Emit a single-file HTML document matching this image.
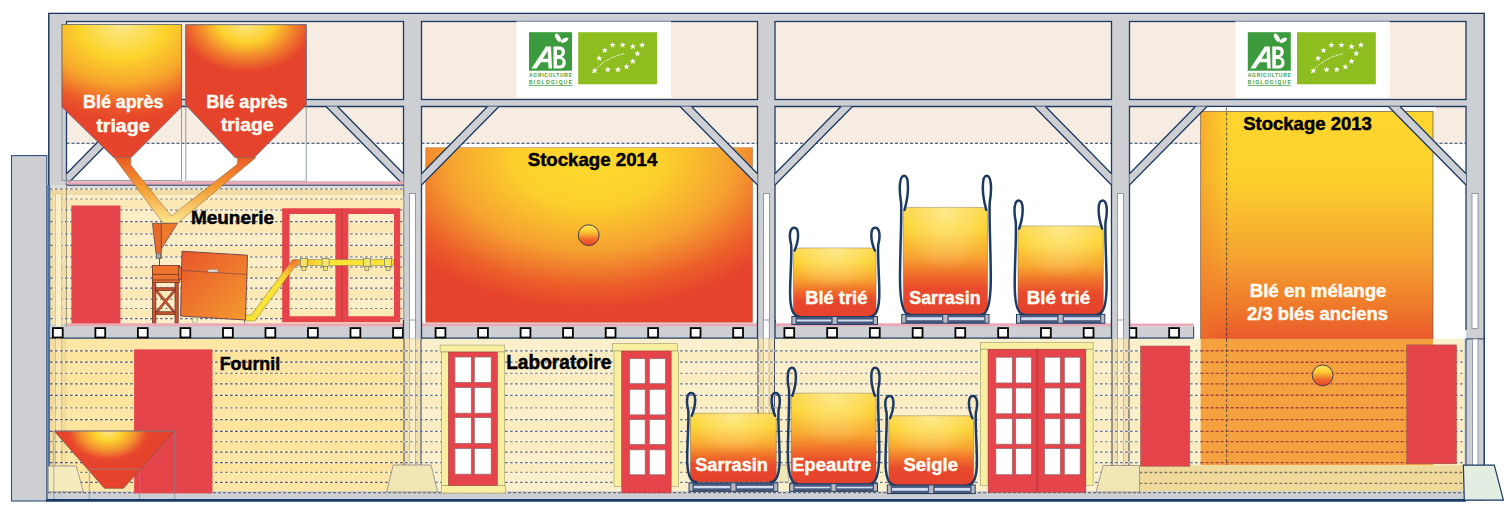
<!DOCTYPE html>
<html><head><meta charset="utf-8"><style>
html,body{margin:0;padding:0;background:#fff;overflow:hidden;width:1512px;height:513px;}
svg{display:block;}
text{font-family:"Liberation Sans",sans-serif;}
</style></head><body>
<svg width="1512" height="513" viewBox="0 0 1512 513">
<defs><radialGradient id="gSilo1" cx="122" cy="24" r="96" gradientUnits="userSpaceOnUse" gradientTransform="translate(122 24) scale(1.3 1) translate(-122 -24)">
<stop offset="0" stop-color="#fbe98e"/><stop offset="0.35" stop-color="#fcd42c"/><stop offset="0.62" stop-color="#f7a62c"/><stop offset="0.86" stop-color="#eb582a"/><stop offset="1" stop-color="#e6452c"/></radialGradient>
<radialGradient id="gSilo2" cx="246" cy="22" r="52" gradientUnits="userSpaceOnUse" gradientTransform="translate(246 22) scale(1.35 1) translate(-246 -22)">
<stop offset="0" stop-color="#fde890"/><stop offset="0.4" stop-color="#fcd02c"/><stop offset="0.72" stop-color="#f07a2c"/><stop offset="0.95" stop-color="#e6462c"/><stop offset="1" stop-color="#e5432c"/></radialGradient>
<radialGradient id="gStock14" cx="590" cy="158" r="160" gradientUnits="userSpaceOnUse" gradientTransform="translate(590 158) scale(1.55 1) translate(-590 -158)">
<stop offset="0" stop-color="#fdd92e"/><stop offset="0.3" stop-color="#fcd02c"/><stop offset="0.58" stop-color="#f5a030"/><stop offset="0.8" stop-color="#ec5e2a"/><stop offset="0.93" stop-color="#e6452c"/><stop offset="1" stop-color="#e5432c"/></radialGradient>
<linearGradient id="gStock13" x1="0" y1="111" x2="0" y2="340" gradientUnits="userSpaceOnUse">
<stop offset="0" stop-color="#fdd62e"/><stop offset="0.3" stop-color="#fcd02c"/><stop offset="0.62" stop-color="#f5a630"/><stop offset="0.85" stop-color="#ef7a2a"/><stop offset="1" stop-color="#e9582a"/></linearGradient>
<linearGradient id="gStock13L" x1="1200" y1="0" x2="1232" y2="0" gradientUnits="userSpaceOnUse">
<stop offset="0" stop-color="#ee7a28" stop-opacity="0.45"/><stop offset="1" stop-color="#ee7a28" stop-opacity="0"/></linearGradient>
<radialGradient id="gBag" cx="0.5" cy="0" r="1.1">
<stop offset="0" stop-color="#fde7a0"/><stop offset="0.18" stop-color="#fcd63a"/><stop offset="0.45" stop-color="#f8b434"/><stop offset="0.7" stop-color="#ee6a2e"/><stop offset="0.85" stop-color="#e84a2c"/><stop offset="1" stop-color="#e5402c"/></radialGradient>
<radialGradient id="gHopper" cx="108" cy="431" r="46" gradientUnits="userSpaceOnUse" gradientTransform="translate(108 431) scale(1 0.72) translate(-108 -431)">
<stop offset="0" stop-color="#fde68a"/><stop offset="0.3" stop-color="#fcd22c"/><stop offset="0.6" stop-color="#f39030"/><stop offset="0.85" stop-color="#e8482c"/><stop offset="1" stop-color="#e5432c"/></radialGradient>
<linearGradient id="gOrb" x1="0" y1="0" x2="0" y2="1">
<stop offset="0" stop-color="#fde860"/><stop offset="0.35" stop-color="#fcc830"/><stop offset="0.7" stop-color="#f06a2a"/><stop offset="1" stop-color="#e5402c"/></linearGradient>
<linearGradient id="gChute1" x1="120" y1="157" x2="170" y2="222" gradientUnits="userSpaceOnUse">
<stop offset="0" stop-color="#ee6a26"/><stop offset="1" stop-color="#fcd650"/></linearGradient>
<linearGradient id="gChute2" x1="245" y1="157" x2="170" y2="222" gradientUnits="userSpaceOnUse">
<stop offset="0" stop-color="#ee6a26"/><stop offset="1" stop-color="#fcd650"/></linearGradient>
<linearGradient id="gMach" x1="182" y1="250" x2="247" y2="320" gradientUnits="userSpaceOnUse">
<stop offset="0" stop-color="#e9552a"/><stop offset="1" stop-color="#f39a30"/></linearGradient>
<radialGradient id="gConv" cx="293" cy="261" r="28" gradientUnits="userSpaceOnUse">
<stop offset="0" stop-color="#ee7028"/><stop offset="0.45" stop-color="#f8c030"/><stop offset="1" stop-color="#fde434"/></radialGradient>
<linearGradient id="gChuteV" x1="0" y1="157" x2="0" y2="223" gradientUnits="userSpaceOnUse"><stop offset="0" stop-color="#ea5a26"/><stop offset="0.45" stop-color="#f39a30"/><stop offset="1" stop-color="#fde890"/></linearGradient>
<linearGradient id="gBagL" x1="0" y1="0" x2="0" y2="1"><stop offset="0" stop-color="#fcd84a"/><stop offset="0.2" stop-color="#fcd22e"/><stop offset="0.45" stop-color="#f8a832"/><stop offset="0.63" stop-color="#ef6e2a"/><stop offset="0.76" stop-color="#e84a2c"/><stop offset="1" stop-color="#e5412c"/></linearGradient>
<radialGradient id="gBagH" cx="0.5" cy="0.05" r="0.55"><stop offset="0" stop-color="#fff6c0" stop-opacity="0.55"/><stop offset="1" stop-color="#fff6c0" stop-opacity="0"/></radialGradient>
<pattern id="dash" width="5" height="11" patternUnits="userSpaceOnUse"><rect x="0" y="0" width="3" height="1.3" fill="#51607a"/></pattern></defs>
<rect width="1512" height="513" fill="#ffffff"/>
<rect x="11.5" y="155.6" width="35.3" height="345.4" fill="#cdcfd2" stroke="#2f4f7a" stroke-width="1.1"/>
<rect x="48" y="13" width="1436" height="487" fill="#cdcfd2"/>
<path d="M48.8 500 V13.4 H1484.2 V500" fill="none" stroke="#1a3358" stroke-width="1.4"/>
<rect x="66.5" y="21.5" width="337.0" height="78" fill="#f7ece1" stroke="#1d3a63" stroke-width="1.3"/>
<rect x="66.5" y="106.5" width="337.0" height="36.7" fill="#f7ece1"/>
<rect x="66.5" y="143.2" width="337.0" height="181" fill="#ffffff"/>
<path d="M66.5 330 V106.5 H403.5 V330" fill="none" stroke="#1d3a63" stroke-width="1.3"/>
<line x1="66.5" y1="143.2" x2="403.5" y2="143.2" stroke="#1d3a63" stroke-width="1.1" stroke-dasharray="3 2"/>
<rect x="421.5" y="21.5" width="336.0" height="78" fill="#f7ece1" stroke="#1d3a63" stroke-width="1.3"/>
<rect x="421.5" y="106.5" width="336.0" height="36.7" fill="#f7ece1"/>
<rect x="421.5" y="143.2" width="336.0" height="181" fill="#ffffff"/>
<path d="M421.5 330 V106.5 H757.5 V330" fill="none" stroke="#1d3a63" stroke-width="1.3"/>
<line x1="421.5" y1="143.2" x2="757.5" y2="143.2" stroke="#1d3a63" stroke-width="1.1" stroke-dasharray="3 2"/>
<rect x="775" y="21.5" width="336.5" height="78" fill="#f7ece1" stroke="#1d3a63" stroke-width="1.3"/>
<rect x="775" y="106.5" width="336.5" height="36.7" fill="#f7ece1"/>
<rect x="775" y="143.2" width="336.5" height="181" fill="#ffffff"/>
<path d="M775 330 V106.5 H1111.5 V330" fill="none" stroke="#1d3a63" stroke-width="1.3"/>
<line x1="775" y1="143.2" x2="1111.5" y2="143.2" stroke="#1d3a63" stroke-width="1.1" stroke-dasharray="3 2"/>
<rect x="1129.5" y="21.5" width="336.5" height="78" fill="#f7ece1" stroke="#1d3a63" stroke-width="1.3"/>
<rect x="1129.5" y="106.5" width="336.5" height="36.7" fill="#f7ece1"/>
<rect x="1129.5" y="143.2" width="336.5" height="196" fill="#ffffff"/>
<path d="M1129.5 330 V106.5 H1466 V330" fill="none" stroke="#1d3a63" stroke-width="1.3"/>
<line x1="1129.5" y1="143.2" x2="1466" y2="143.2" stroke="#1d3a63" stroke-width="1.1" stroke-dasharray="3 2"/>
<rect x="409.5" y="193.5" width="6" height="135" fill="#ffffff" stroke="#7d8796" stroke-width="0.8"/>
<rect x="763.5" y="193.5" width="6" height="135" fill="#ffffff" stroke="#7d8796" stroke-width="0.8"/>
<rect x="1117.5" y="193.5" width="6" height="135" fill="#ffffff" stroke="#7d8796" stroke-width="0.8"/>
<rect x="1472" y="193.5" width="6" height="135" fill="#ffffff" stroke="#7d8796" stroke-width="0.8"/>
<rect x="425.7" y="147.7" width="327" height="174.6" fill="url(#gStock14)" stroke="#b9876a" stroke-width="0.6"/>
<rect x="1196" y="107.2" width="240" height="4.2" fill="#ffffff"/>
<rect x="1200.7" y="111.4" width="232.3" height="228" fill="url(#gStock13)" stroke="#6a5a50" stroke-width="0.7"/>
<rect x="1200.7" y="111.4" width="32" height="228" fill="url(#gStock13L)"/>
<line x1="1226.6" y1="107.5" x2="1226.6" y2="339" stroke="#333" stroke-width="0.8" stroke-dasharray="3 2"/>
<polygon points="66.5,173.8 132.5,106.5 144.0,106.5 66.5,185" fill="#cdcfd2"/><path d="M66.5 173.8 L132.5 106.5 M144.0 106.5 L66.5 185" stroke="#1d3a63" stroke-width="1.3" fill="none"/>
<polygon points="403.5,173.8 337.5,106.5 326.0,106.5 403.5,185" fill="#cdcfd2"/><path d="M403.5 173.8 L337.5 106.5 M326.0 106.5 L403.5 185" stroke="#1d3a63" stroke-width="1.3" fill="none"/>
<polygon points="421.5,173.8 487.5,106.5 499.0,106.5 421.5,185" fill="#cdcfd2"/><path d="M421.5 173.8 L487.5 106.5 M499.0 106.5 L421.5 185" stroke="#1d3a63" stroke-width="1.3" fill="none"/>
<polygon points="757.5,173.8 691.5,106.5 680.0,106.5 757.5,185" fill="#cdcfd2"/><path d="M757.5 173.8 L691.5 106.5 M680.0 106.5 L757.5 185" stroke="#1d3a63" stroke-width="1.3" fill="none"/>
<polygon points="775,173.8 841,106.5 852.5,106.5 775,185" fill="#cdcfd2"/><path d="M775 173.8 L841 106.5 M852.5 106.5 L775 185" stroke="#1d3a63" stroke-width="1.3" fill="none"/>
<polygon points="1111.5,173.8 1045.5,106.5 1034.0,106.5 1111.5,185" fill="#cdcfd2"/><path d="M1111.5 173.8 L1045.5 106.5 M1034.0 106.5 L1111.5 185" stroke="#1d3a63" stroke-width="1.3" fill="none"/>
<polygon points="1129.5,173.8 1195.5,106.5 1207.0,106.5 1129.5,185" fill="#cdcfd2"/><path d="M1129.5 173.8 L1195.5 106.5 M1207.0 106.5 L1129.5 185" stroke="#1d3a63" stroke-width="1.3" fill="none"/>
<polygon points="1466,173.8 1400,106.5 1388.5,106.5 1466,185" fill="#cdcfd2"/><path d="M1466 173.8 L1400 106.5 M1388.5 106.5 L1466 185" stroke="#1d3a63" stroke-width="1.3" fill="none"/>
<rect x="516.5" y="21.5" width="154.5" height="76" fill="#ffffff"/><rect x="529.0" y="32.2" width="43" height="38.5" fill="#3c9b3c"/><path d="M531.50,68.50 L546.00,46.50 L551.00,46.50 L552.00,68.50 L548.50,68.50 L548.20,62.20 L541.00,62.20 L536.50,68.50 Z M542.80,58.80 L548.00,58.80 L547.80,50.70 Z" fill="#ffffff" fill-rule="evenodd"/><path d="M553.50,46.50 L560.00,46.50 C566.50,46.50 566.50,56.50 561.00,57.00 C567.50,57.50 567.50,68.50 560.50,68.50 L553.50,68.50 Z M557.00,49.80 L559.50,49.80 C562.50,49.80 562.50,55.00 559.50,55.00 L557.00,55.00 Z M557.00,59.00 L560.00,59.00 C563.50,59.00 563.50,65.40 560.00,65.40 L557.00,65.40 Z" fill="#ffffff" fill-rule="evenodd"/><ellipse cx="558.0" cy="37.7" rx="2.2" ry="4.6" transform="rotate(-30 558.0 37.7)" fill="#ffffff"/><ellipse cx="564.5" cy="40.2" rx="2" ry="4" transform="rotate(60 564.5 40.2)" fill="#ffffff"/><text x="529.0" y="77.2" font-family="Liberation Sans" font-weight="bold" font-size="5" fill="#3c9b3c" textLength="43" lengthAdjust="spacing">AGRICULTURE</text><text x="529.0" y="84.0" font-family="Liberation Sans" font-weight="bold" font-size="5" fill="#3c9b3c" textLength="43" lengthAdjust="spacing">BIOLOGIQUE</text><line x1="529.0" y1="85.4" x2="572.0" y2="85.4" stroke="#3c9b3c" stroke-width="0.8"/><rect x="578.2" y="32.2" width="78.8" height="52.1" fill="#8dbd1f"/><polygon points="612.56,41.72 613.35,43.92 615.70,44.00 613.84,45.43 614.50,47.69 612.56,46.37 610.62,47.69 611.27,45.43 609.42,44.00 611.76,43.92" fill="#ffffff"/><polygon points="622.64,41.72 623.44,43.92 625.78,44.00 623.93,45.43 624.58,47.69 622.64,46.37 620.70,47.69 621.36,45.43 619.50,44.00 621.85,43.92" fill="#ffffff"/><polygon points="632.81,43.23 633.60,45.44 635.95,45.51 634.09,46.94 634.75,49.20 632.81,47.88 630.87,49.20 631.52,46.94 629.67,45.51 632.01,45.44" fill="#ffffff"/><polygon points="642.19,41.72 642.98,43.92 645.32,44.00 643.47,45.43 644.13,47.69 642.19,46.37 640.25,47.69 640.90,45.43 639.05,44.00 641.39,43.92" fill="#ffffff"/><polygon points="604.76,47.14 605.55,49.34 607.89,49.42 606.04,50.85 606.70,53.10 604.76,51.79 602.82,53.10 603.47,50.85 601.62,49.42 603.96,49.34" fill="#ffffff"/><polygon points="637.46,50.26 638.25,52.47 640.60,52.54 638.74,53.98 639.40,56.23 637.46,54.91 635.52,56.23 636.17,53.98 634.32,52.54 636.66,52.47" fill="#ffffff"/><polygon points="599.24,54.95 600.03,57.16 602.38,57.23 600.52,58.67 601.18,60.92 599.24,59.60 597.30,60.92 597.96,58.67 596.10,57.23 598.45,57.16" fill="#ffffff"/><polygon points="632.81,58.08 633.60,60.28 635.95,60.36 634.09,61.79 634.75,64.05 632.81,62.73 630.87,64.05 631.52,61.79 629.67,60.36 632.01,60.28" fill="#ffffff"/><polygon points="594.59,67.45 595.38,69.66 597.73,69.73 595.87,71.17 596.53,73.42 594.59,72.10 592.65,73.42 593.31,71.17 591.45,69.73 593.80,69.66" fill="#ffffff"/><polygon points="607.83,66.41 608.62,68.62 610.97,68.69 609.11,70.13 609.77,72.38 607.83,71.06 605.89,72.38 606.54,70.13 604.69,68.69 607.04,68.62" fill="#ffffff"/><polygon points="617.99,66.41 618.79,68.62 621.13,68.69 619.28,70.13 619.93,72.38 617.99,71.06 616.05,72.38 616.71,70.13 614.86,68.69 617.20,68.62" fill="#ffffff"/><polygon points="626.58,63.55 627.38,65.75 629.72,65.83 627.87,67.26 628.52,69.52 626.58,68.20 624.64,69.52 625.30,67.26 623.44,65.83 625.79,65.75" fill="#ffffff"/><path d="M592.2 73.0 Q604.2 58.2 624.2 53.6" stroke="#ffffff" stroke-width="0.9" fill="none" stroke-dasharray="2 0.8"/>
<rect x="1235.3" y="21.5" width="154.5" height="76" fill="#ffffff"/><rect x="1247.8" y="32.2" width="43" height="38.5" fill="#3c9b3c"/><path d="M1250.30,68.50 L1264.80,46.50 L1269.80,46.50 L1270.80,68.50 L1267.30,68.50 L1267.00,62.20 L1259.80,62.20 L1255.30,68.50 Z M1261.60,58.80 L1266.80,58.80 L1266.60,50.70 Z" fill="#ffffff" fill-rule="evenodd"/><path d="M1272.30,46.50 L1278.80,46.50 C1285.30,46.50 1285.30,56.50 1279.80,57.00 C1286.30,57.50 1286.30,68.50 1279.30,68.50 L1272.30,68.50 Z M1275.80,49.80 L1278.30,49.80 C1281.30,49.80 1281.30,55.00 1278.30,55.00 L1275.80,55.00 Z M1275.80,59.00 L1278.80,59.00 C1282.30,59.00 1282.30,65.40 1278.80,65.40 L1275.80,65.40 Z" fill="#ffffff" fill-rule="evenodd"/><ellipse cx="1276.8" cy="37.7" rx="2.2" ry="4.6" transform="rotate(-30 1276.8 37.7)" fill="#ffffff"/><ellipse cx="1283.3" cy="40.2" rx="2" ry="4" transform="rotate(60 1283.3 40.2)" fill="#ffffff"/><text x="1247.8" y="77.2" font-family="Liberation Sans" font-weight="bold" font-size="5" fill="#3c9b3c" textLength="43" lengthAdjust="spacing">AGRICULTURE</text><text x="1247.8" y="84.0" font-family="Liberation Sans" font-weight="bold" font-size="5" fill="#3c9b3c" textLength="43" lengthAdjust="spacing">BIOLOGIQUE</text><line x1="1247.8" y1="85.4" x2="1290.8" y2="85.4" stroke="#3c9b3c" stroke-width="0.8"/><rect x="1297.0" y="32.2" width="78.8" height="52.1" fill="#8dbd1f"/><polygon points="1331.36,41.72 1332.15,43.92 1334.50,44.00 1332.64,45.43 1333.30,47.69 1331.36,46.37 1329.42,47.69 1330.07,45.43 1328.22,44.00 1330.56,43.92" fill="#ffffff"/><polygon points="1341.44,41.72 1342.24,43.92 1344.58,44.00 1342.73,45.43 1343.38,47.69 1341.44,46.37 1339.50,47.69 1340.16,45.43 1338.30,44.00 1340.65,43.92" fill="#ffffff"/><polygon points="1351.61,43.23 1352.40,45.44 1354.75,45.51 1352.89,46.94 1353.55,49.20 1351.61,47.88 1349.67,49.20 1350.32,46.94 1348.47,45.51 1350.81,45.44" fill="#ffffff"/><polygon points="1360.99,41.72 1361.78,43.92 1364.12,44.00 1362.27,45.43 1362.93,47.69 1360.99,46.37 1359.05,47.69 1359.70,45.43 1357.85,44.00 1360.19,43.92" fill="#ffffff"/><polygon points="1323.56,47.14 1324.35,49.34 1326.69,49.42 1324.84,50.85 1325.50,53.10 1323.56,51.79 1321.62,53.10 1322.27,50.85 1320.42,49.42 1322.76,49.34" fill="#ffffff"/><polygon points="1356.26,50.26 1357.05,52.47 1359.40,52.54 1357.54,53.98 1358.20,56.23 1356.26,54.91 1354.32,56.23 1354.97,53.98 1353.12,52.54 1355.46,52.47" fill="#ffffff"/><polygon points="1318.04,54.95 1318.83,57.16 1321.18,57.23 1319.32,58.67 1319.98,60.92 1318.04,59.60 1316.10,60.92 1316.76,58.67 1314.90,57.23 1317.25,57.16" fill="#ffffff"/><polygon points="1351.61,58.08 1352.40,60.28 1354.75,60.36 1352.89,61.79 1353.55,64.05 1351.61,62.73 1349.67,64.05 1350.32,61.79 1348.47,60.36 1350.81,60.28" fill="#ffffff"/><polygon points="1313.39,67.45 1314.18,69.66 1316.53,69.73 1314.67,71.17 1315.33,73.42 1313.39,72.10 1311.45,73.42 1312.11,71.17 1310.25,69.73 1312.60,69.66" fill="#ffffff"/><polygon points="1326.63,66.41 1327.42,68.62 1329.77,68.69 1327.91,70.13 1328.57,72.38 1326.63,71.06 1324.69,72.38 1325.34,70.13 1323.49,68.69 1325.84,68.62" fill="#ffffff"/><polygon points="1336.79,66.41 1337.59,68.62 1339.93,68.69 1338.08,70.13 1338.73,72.38 1336.79,71.06 1334.85,72.38 1335.51,70.13 1333.66,68.69 1336.00,68.62" fill="#ffffff"/><polygon points="1345.38,63.55 1346.18,65.75 1348.52,65.83 1346.67,67.26 1347.32,69.52 1345.38,68.20 1343.44,69.52 1344.10,67.26 1342.24,65.83 1344.59,65.75" fill="#ffffff"/><path d="M1311.0 73.0 Q1323.0 58.2 1343.0 53.6" stroke="#ffffff" stroke-width="0.9" fill="none" stroke-dasharray="2 0.8"/>
<rect x="62" y="24.5" width="119.5" height="156" fill="none" stroke="#8a8f98" stroke-width="0.9"/>
<rect x="185.8" y="24.7" width="120.4" height="156.5" fill="none" stroke="#8a8f98" stroke-width="0.9"/>
<polygon points="62,24.5 181.5,24.5 181.5,107 131.3,157.3 113.5,157.3 62,107" fill="url(#gSilo1)" stroke="#55607a" stroke-width="0.7"/>
<polygon points="185.8,24.7 306.2,24.7 306.2,105 254.3,157.5 235,157.5 185.8,105" fill="url(#gSilo2)" stroke="#55607a" stroke-width="0.7"/>
<rect x="66.5" y="181.3" width="337" height="3.5" fill="#e9a9b6"/>
<rect x="50" y="185" width="353.5" height="4.2" fill="#dddcd5"/>
<line x1="66.5" y1="185.2" x2="403.5" y2="185.2" stroke="#1d3a63" stroke-width="1"/>
<rect x="50" y="189.2" width="353.5" height="6.1" fill="#f1dca6"/>
<rect x="50" y="195.3" width="353.5" height="128.5" fill="#fcefc8"/>
<rect x="50" y="199" width="353.5" height="11" fill="#fbe4a8" opacity="0.55"/>
<rect x="50" y="221.7" width="353.5" height="12.300000000000011" fill="#fbe4a8" opacity="0.55"/>
<rect x="50" y="245.4" width="353.5" height="11.599999999999994" fill="#fbe4a8" opacity="0.55"/>
<rect x="50" y="267.2" width="353.5" height="10.900000000000034" fill="#fbe4a8" opacity="0.55"/>
<rect x="50" y="288.2" width="353.5" height="10.900000000000034" fill="#fbe4a8" opacity="0.55"/>
<rect x="50" y="308.5" width="353.5" height="10.100000000000023" fill="#fbe4a8" opacity="0.55"/>
<rect x="50" y="189.2" width="16.5" height="134.6" fill="#eed59a" opacity="0.6"/>
<line x1="50" y1="189" x2="403.5" y2="189" stroke="#ffffff" stroke-width="1.5" stroke-dasharray="1.6 3.4" stroke-dashoffset="-3.2" opacity="0.8"/>
<line x1="50" y1="189" x2="403.5" y2="189" stroke="#5e6a86" stroke-width="1.2" stroke-dasharray="2.7 2.3"/>
<line x1="50" y1="199" x2="403.5" y2="199" stroke="#ffffff" stroke-width="1.5" stroke-dasharray="1.6 3.4" stroke-dashoffset="-3.2" opacity="0.8"/>
<line x1="50" y1="199" x2="403.5" y2="199" stroke="#8f8a70" stroke-width="1.2" stroke-dasharray="2.7 2.3"/>
<line x1="50" y1="210" x2="403.5" y2="210" stroke="#ffffff" stroke-width="1.5" stroke-dasharray="1.6 3.4" stroke-dashoffset="-3.2" opacity="0.8"/>
<line x1="50" y1="210" x2="403.5" y2="210" stroke="#5e6a86" stroke-width="1.2" stroke-dasharray="2.7 2.3"/>
<line x1="50" y1="221.7" x2="403.5" y2="221.7" stroke="#ffffff" stroke-width="1.5" stroke-dasharray="1.6 3.4" stroke-dashoffset="-3.2" opacity="0.8"/>
<line x1="50" y1="221.7" x2="403.5" y2="221.7" stroke="#5e6a86" stroke-width="1.2" stroke-dasharray="2.7 2.3"/>
<line x1="50" y1="234" x2="403.5" y2="234" stroke="#ffffff" stroke-width="1.5" stroke-dasharray="1.6 3.4" stroke-dashoffset="-3.2" opacity="0.8"/>
<line x1="50" y1="234" x2="403.5" y2="234" stroke="#5e6a86" stroke-width="1.2" stroke-dasharray="2.7 2.3"/>
<line x1="50" y1="245.4" x2="403.5" y2="245.4" stroke="#ffffff" stroke-width="1.5" stroke-dasharray="1.6 3.4" stroke-dashoffset="-3.2" opacity="0.8"/>
<line x1="50" y1="245.4" x2="403.5" y2="245.4" stroke="#5e6a86" stroke-width="1.2" stroke-dasharray="2.7 2.3"/>
<line x1="50" y1="257" x2="403.5" y2="257" stroke="#ffffff" stroke-width="1.5" stroke-dasharray="1.6 3.4" stroke-dashoffset="-3.2" opacity="0.8"/>
<line x1="50" y1="257" x2="403.5" y2="257" stroke="#5e6a86" stroke-width="1.2" stroke-dasharray="2.7 2.3"/>
<line x1="50" y1="267.2" x2="403.5" y2="267.2" stroke="#ffffff" stroke-width="1.5" stroke-dasharray="1.6 3.4" stroke-dashoffset="-3.2" opacity="0.8"/>
<line x1="50" y1="267.2" x2="403.5" y2="267.2" stroke="#8f8a70" stroke-width="1.2" stroke-dasharray="2.7 2.3"/>
<line x1="50" y1="278.1" x2="403.5" y2="278.1" stroke="#ffffff" stroke-width="1.5" stroke-dasharray="1.6 3.4" stroke-dashoffset="-3.2" opacity="0.8"/>
<line x1="50" y1="278.1" x2="403.5" y2="278.1" stroke="#5e6a86" stroke-width="1.2" stroke-dasharray="2.7 2.3"/>
<line x1="50" y1="288.2" x2="403.5" y2="288.2" stroke="#ffffff" stroke-width="1.5" stroke-dasharray="1.6 3.4" stroke-dashoffset="-3.2" opacity="0.8"/>
<line x1="50" y1="288.2" x2="403.5" y2="288.2" stroke="#5e6a86" stroke-width="1.2" stroke-dasharray="2.7 2.3"/>
<line x1="50" y1="299.1" x2="403.5" y2="299.1" stroke="#ffffff" stroke-width="1.5" stroke-dasharray="1.6 3.4" stroke-dashoffset="-3.2" opacity="0.8"/>
<line x1="50" y1="299.1" x2="403.5" y2="299.1" stroke="#8f8a70" stroke-width="1.2" stroke-dasharray="2.7 2.3"/>
<line x1="50" y1="308.5" x2="403.5" y2="308.5" stroke="#ffffff" stroke-width="1.5" stroke-dasharray="1.6 3.4" stroke-dashoffset="-3.2" opacity="0.8"/>
<line x1="50" y1="308.5" x2="403.5" y2="308.5" stroke="#8f8a70" stroke-width="1.2" stroke-dasharray="2.7 2.3"/>
<line x1="50" y1="318.6" x2="403.5" y2="318.6" stroke="#ffffff" stroke-width="1.5" stroke-dasharray="1.6 3.4" stroke-dashoffset="-3.2" opacity="0.8"/>
<line x1="50" y1="318.6" x2="403.5" y2="318.6" stroke="#5e6a86" stroke-width="1.2" stroke-dasharray="2.7 2.3"/>
<rect x="47.3" y="185" width="3" height="315" fill="#4d72a3"/>
<rect x="55.7" y="193.3" width="5.6" height="300" fill="#fdf0c8" stroke="#c9b88a" stroke-width="0.6"/>
<line x1="66.5" y1="185" x2="66.5" y2="493" stroke="#8a8a80" stroke-width="0.8"/>
<rect x="71.4" y="205.5" width="49" height="118.5" fill="#e5444a"/>
<path d="M282.2 208.3 H400.2 V322.2 H282.2 Z M289.6 214 V316.3 H335.4 V214 Z M348.3 214 V316.3 H394 V214 Z" fill="#e5444a" fill-rule="evenodd"/>
<line x1="341.8" y1="208.3" x2="341.8" y2="322.2" stroke="#b03038" stroke-width="0.6"/>
<polygon points="245.5,315 251.2,315 292.6,259.6 393.7,259.6 393.7,265.6 295.8,265.6 254.8,321 245.5,321" fill="url(#gConv)" stroke="#6b6f5a" stroke-width="0.5"/>
<rect x="300.4" y="258.3" width="7" height="8" fill="#f5e36a" stroke="#5d6a70" stroke-width="0.6"/><rect x="301.9" y="266.3" width="4" height="4" fill="#f5e36a" stroke="#5d6a70" stroke-width="0.6"/>
<rect x="322.1" y="258.3" width="7" height="8" fill="#f5e36a" stroke="#5d6a70" stroke-width="0.6"/><rect x="323.6" y="266.3" width="4" height="4" fill="#f5e36a" stroke="#5d6a70" stroke-width="0.6"/>
<rect x="363.4" y="258.3" width="7" height="8" fill="#f5e36a" stroke="#5d6a70" stroke-width="0.6"/><rect x="364.9" y="266.3" width="4" height="4" fill="#f5e36a" stroke="#5d6a70" stroke-width="0.6"/>
<rect x="384.6" y="258.3" width="7" height="8" fill="#f5e36a" stroke="#5d6a70" stroke-width="0.6"/><rect x="386.1" y="266.3" width="4" height="4" fill="#f5e36a" stroke="#5d6a70" stroke-width="0.6"/>
<g stroke="#6a3030" stroke-width="0.8"><line x1="155.8" y1="290" x2="175" y2="313" stroke="#6a3030" stroke-width="2.6"/><line x1="175" y1="290" x2="155.8" y2="313" stroke="#6a3030" stroke-width="2.6"/><line x1="155.8" y1="290" x2="175" y2="313" stroke="#d0582c" stroke-width="1.4"/><line x1="175" y1="290" x2="155.8" y2="313" stroke="#d0582c" stroke-width="1.4"/><rect x="152.6" y="282.6" width="3.2" height="40.5" fill="#cc562c"/><rect x="175" y="282.6" width="3.2" height="40.5" fill="#cc562c"/><rect x="155.8" y="287.8" width="19.2" height="2.6" fill="#cc562c"/><rect x="155.8" y="311.8" width="19.2" height="2.6" fill="#cc562c"/><rect x="152.4" y="265.4" width="27" height="17.2" fill="#ec742c"/><line x1="152.4" y1="274.4" x2="179.4" y2="274.4"/><line x1="152.4" y1="280" x2="179.4" y2="280"/><polygon points="178.6,266.5 184.5,270 184.5,281 178.6,279" fill="#ec742c"/></g>
<polygon points="161.3,223.3 177.4,223.3 161.3,249" fill="#f07a2c" stroke="#6a4a5a" stroke-width="0.8"/>
<polygon points="152.4,223.3 161.3,223.3 161.3,258.5 157,258.5 155.5,250" fill="#e86a2a" stroke="#6a4a5a" stroke-width="0.8"/>
<rect x="156.6" y="253.2" width="4" height="5.5" fill="#a8a8b0" stroke="#555" stroke-width="0.5"/>
<line x1="159.5" y1="258.7" x2="159.5" y2="265.4" stroke="#6a4a5a" stroke-width="1"/>
<polygon points="182,251.2 247.5,255.2 245.5,320 180.6,316" fill="url(#gMach)" stroke="#6a4050" stroke-width="0.9"/>
<line x1="182" y1="270.4" x2="247.5" y2="274.5" stroke="#7a4a4a" stroke-width="0.7"/>
<rect x="208" y="269.4" width="10" height="2.6" fill="#e8e0d0" stroke="#777" stroke-width="0.4"/>
<ellipse cx="194.8" cy="320.3" rx="2.6" ry="3" fill="#f2f0c0" stroke="#8a8a60" stroke-width="0.6"/>
<line x1="244.5" y1="320" x2="244.5" y2="324" stroke="#777" stroke-width="1"/>
<polygon points="114.1,157.5 130.7,157.5 130.7,165 171.3,216 237.5,164 237.5,157.5 255.8,157.5 177.9,222.9 163,222.9" fill="url(#gChuteV)" stroke="#8a5a3a" stroke-width="0.5"/>
<rect x="66.5" y="323.3" width="337" height="3.2" fill="#e9a9b6"/>
<rect x="421.5" y="323.3" width="336" height="3.2" fill="#e9a9b6"/>
<rect x="775" y="323.3" width="336.5" height="3.2" fill="#e9a9b6"/>
<rect x="1129.5" y="323.5" width="64.2" height="3" fill="#e9a9b6"/>
<rect x="50" y="326.5" width="1143.7" height="11.5" fill="#cdcfd2"/>
<line x1="50" y1="338.1" x2="1193.7" y2="338.1" stroke="#1d3a63" stroke-width="1.1"/>
<line x1="1193.7" y1="326.5" x2="1193.7" y2="338.2" stroke="#1d3a63" stroke-width="1"/>
<rect x="52.9" y="328.1" width="9.8" height="9.4" fill="#ffffff" stroke="#000" stroke-width="1.8"/>
<rect x="95.4" y="328.1" width="9.8" height="9.4" fill="#ffffff" stroke="#000" stroke-width="1.8"/>
<rect x="137.9" y="328.1" width="9.8" height="9.4" fill="#ffffff" stroke="#000" stroke-width="1.8"/>
<rect x="180.5" y="328.1" width="9.8" height="9.4" fill="#ffffff" stroke="#000" stroke-width="1.8"/>
<rect x="223.0" y="328.1" width="9.8" height="9.4" fill="#ffffff" stroke="#000" stroke-width="1.8"/>
<rect x="265.5" y="328.1" width="9.8" height="9.4" fill="#ffffff" stroke="#000" stroke-width="1.8"/>
<rect x="308.0" y="328.1" width="9.8" height="9.4" fill="#ffffff" stroke="#000" stroke-width="1.8"/>
<rect x="350.5" y="328.1" width="9.8" height="9.4" fill="#ffffff" stroke="#000" stroke-width="1.8"/>
<rect x="393.1" y="328.1" width="9.8" height="9.4" fill="#ffffff" stroke="#000" stroke-width="1.8"/>
<rect x="435.6" y="328.1" width="9.8" height="9.4" fill="#ffffff" stroke="#000" stroke-width="1.8"/>
<rect x="478.1" y="328.1" width="9.8" height="9.4" fill="#ffffff" stroke="#000" stroke-width="1.8"/>
<rect x="520.6" y="328.1" width="9.8" height="9.4" fill="#ffffff" stroke="#000" stroke-width="1.8"/>
<rect x="563.1" y="328.1" width="9.8" height="9.4" fill="#ffffff" stroke="#000" stroke-width="1.8"/>
<rect x="605.7" y="328.1" width="9.8" height="9.4" fill="#ffffff" stroke="#000" stroke-width="1.8"/>
<rect x="648.2" y="328.1" width="9.8" height="9.4" fill="#ffffff" stroke="#000" stroke-width="1.8"/>
<rect x="690.7" y="328.1" width="9.8" height="9.4" fill="#ffffff" stroke="#000" stroke-width="1.8"/>
<rect x="733.2" y="328.1" width="9.8" height="9.4" fill="#ffffff" stroke="#000" stroke-width="1.8"/>
<rect x="784.4" y="328.1" width="9.8" height="9.4" fill="#ffffff" stroke="#000" stroke-width="1.8"/>
<rect x="827.2" y="328.1" width="9.8" height="9.4" fill="#ffffff" stroke="#000" stroke-width="1.8"/>
<rect x="869.9" y="328.1" width="9.8" height="9.4" fill="#ffffff" stroke="#000" stroke-width="1.8"/>
<rect x="912.7" y="328.1" width="9.8" height="9.4" fill="#ffffff" stroke="#000" stroke-width="1.8"/>
<rect x="955.4" y="328.1" width="9.8" height="9.4" fill="#ffffff" stroke="#000" stroke-width="1.8"/>
<rect x="998.2" y="328.1" width="9.8" height="9.4" fill="#ffffff" stroke="#000" stroke-width="1.8"/>
<rect x="1041.0" y="328.1" width="9.8" height="9.4" fill="#ffffff" stroke="#000" stroke-width="1.8"/>
<rect x="1083.7" y="328.1" width="9.8" height="9.4" fill="#ffffff" stroke="#000" stroke-width="1.8"/>
<rect x="1126.5" y="328.1" width="9.8" height="9.4" fill="#ffffff" stroke="#000" stroke-width="1.8"/>
<rect x="1169.2" y="328.1" width="9.8" height="9.4" fill="#ffffff" stroke="#000" stroke-width="1.8"/>
<rect x="403.5" y="320" width="18.0" height="19" fill="#cdcfd2"/>
<path d="M403.5 320 V339 M421.5 320 V339" stroke="#1d3a63" stroke-width="1.3"/>
<rect x="409.5" y="320" width="6" height="19" fill="#ffffff" stroke="#7d8796" stroke-width="0.8"/>
<rect x="757.5" y="320" width="17.5" height="19" fill="#cdcfd2"/>
<path d="M757.5 320 V339 M775 320 V339" stroke="#1d3a63" stroke-width="1.3"/>
<rect x="763.25" y="320" width="6" height="19" fill="#ffffff" stroke="#7d8796" stroke-width="0.8"/>
<rect x="1111.5" y="320" width="18.0" height="19" fill="#cdcfd2"/>
<path d="M1111.5 320 V339 M1129.5 320 V339" stroke="#1d3a63" stroke-width="1.3"/>
<rect x="1117.5" y="320" width="6" height="19" fill="#ffffff" stroke="#7d8796" stroke-width="0.8"/>
<path d="M793.4 254 Q793.4 248 799.4 248 H870 Q876 248 876 254 V309.6 Q876 316.6 869 316.6 H800.4 Q793.4 316.6 793.4 309.6 Z" fill="url(#gBagL)" stroke="#7a6a50" stroke-width="0.5"/><path d="M793.4 254 Q793.4 248 799.4 248 H870 Q876 248 876 254 V309.6 Q876 316.6 869 316.6 H800.4 Q793.4 316.6 793.4 309.6 Z" fill="url(#gBagH)"/><path d="M799.4 316.8 C792.9 316.6 790.0 308.368 790.1 292.59000000000003 C790.3 272.01 791.8 258.29 791.1999999999999 244.95499999999998 C788.6 234.80499999999998 790.0 227.7 794.1999999999999 227.7 C799.1999999999999 227.7 799.4 238.865 794.6 250.5" fill="none" stroke="#1d3a63" stroke-width="2.5" stroke-linecap="round"/><path d="M870 316.8 C876.5 316.6 879.4 308.368 879.3 292.59000000000003 C879.1 272.01 877.6 258.29 878.2 244.95499999999998 C880.8 234.80499999999998 879.4 227.7 875.2 227.7 C870.2 227.7 870 238.865 874.8 250.5" fill="none" stroke="#1d3a63" stroke-width="2.5" stroke-linecap="round"/><rect x="791.9" y="316.6" width="85.60000000000002" height="7.7999999999999545" fill="#4a5a7e" stroke="#1d3a63" stroke-width="1"/><rect x="796.4" y="319.1" width="35.30000000000007" height="2.7999999999999545" fill="#d2def0" stroke="#34466a" stroke-width="0.6"/><rect x="837.7" y="319.1" width="35.30000000000007" height="2.7999999999999545" fill="#d2def0" stroke="#34466a" stroke-width="0.6"/><rect x="792.4" y="317.1" width="3" height="6.7999999999999545" fill="#b8b8c0"/><rect x="874.0" y="317.1" width="3" height="6.7999999999999545" fill="#b8b8c0"/><rect x="832.7" y="317.1" width="4" height="6.7999999999999545" fill="#b8b8c0"/>
<path d="M903.3 213.4 Q903.3 207.4 909.3 207.4 H981.5 Q987.5 207.4 987.5 213.4 V307.4 Q987.5 314.4 980.5 314.4 H910.3 Q903.3 314.4 903.3 307.4 Z" fill="url(#gBagL)" stroke="#7a6a50" stroke-width="0.5"/><path d="M903.3 213.4 Q903.3 207.4 909.3 207.4 H981.5 Q987.5 207.4 987.5 213.4 V307.4 Q987.5 314.4 980.5 314.4 H910.3 Q903.3 314.4 903.3 307.4 Z" fill="url(#gBagH)"/><path d="M909.3 314.59999999999997 C902.8 314.4 899.9 301.56 900.0 276.95 C900.1999999999999 244.85 901.6999999999999 223.45 901.0999999999999 202.66 C898.5 186.86 899.9 175.8 904.0999999999999 175.8 C909.0999999999999 175.8 909.3 193.18 904.5 209.9" fill="none" stroke="#1d3a63" stroke-width="2.5" stroke-linecap="round"/><path d="M981.5 314.59999999999997 C988.0 314.4 990.9 301.56 990.8 276.95 C990.6 244.85 989.1 223.45 989.7 202.66 C992.3 186.86 990.9 175.8 986.7 175.8 C981.7 175.8 981.5 193.18 986.3 209.9" fill="none" stroke="#1d3a63" stroke-width="2.5" stroke-linecap="round"/><rect x="901.8" y="314.4" width="87.20000000000005" height="8.800000000000011" fill="#4a5a7e" stroke="#1d3a63" stroke-width="1"/><rect x="906.3" y="316.9" width="36.10000000000002" height="3.8000000000000114" fill="#d2def0" stroke="#34466a" stroke-width="0.6"/><rect x="948.4" y="316.9" width="36.10000000000002" height="3.8000000000000114" fill="#d2def0" stroke="#34466a" stroke-width="0.6"/><rect x="902.3" y="314.9" width="3" height="7.800000000000011" fill="#b8b8c0"/><rect x="985.5" y="314.9" width="3" height="7.800000000000011" fill="#b8b8c0"/><rect x="943.4" y="314.9" width="4" height="7.800000000000011" fill="#b8b8c0"/>
<path d="M1018 232 Q1018 226 1024 226 H1097.3 Q1103.3 226 1103.3 232 V307.4 Q1103.3 314.4 1096.3 314.4 H1025 Q1018 314.4 1018 307.4 Z" fill="url(#gBagL)" stroke="#7a6a50" stroke-width="0.5"/><path d="M1018 232 Q1018 226 1024 226 H1097.3 Q1103.3 226 1103.3 232 V307.4 Q1103.3 314.4 1096.3 314.4 H1025 Q1018 314.4 1018 307.4 Z" fill="url(#gBagH)"/><path d="M1024 314.59999999999997 C1017.5 314.4 1014.6 303.792 1014.7 283.46 C1014.9 256.94 1016.4 239.26 1015.8 222.16 C1013.2 209.36 1014.6 200.4 1018.8 200.4 C1023.8 200.4 1024 214.48000000000002 1019.2 228.5" fill="none" stroke="#1d3a63" stroke-width="2.5" stroke-linecap="round"/><path d="M1097.3 314.59999999999997 C1103.8 314.4 1106.7 303.792 1106.6 283.46 C1106.3999999999999 256.94 1104.8999999999999 239.26 1105.5 222.16 C1108.1 209.36 1106.7 200.4 1102.5 200.4 C1097.5 200.4 1097.3 214.48000000000002 1102.1 228.5" fill="none" stroke="#1d3a63" stroke-width="2.5" stroke-linecap="round"/><rect x="1016.5" y="314.4" width="88.29999999999995" height="8.800000000000011" fill="#4a5a7e" stroke="#1d3a63" stroke-width="1"/><rect x="1021.0" y="316.9" width="36.65000000000009" height="3.8000000000000114" fill="#d2def0" stroke="#34466a" stroke-width="0.6"/><rect x="1063.65" y="316.9" width="36.65000000000009" height="3.8000000000000114" fill="#d2def0" stroke="#34466a" stroke-width="0.6"/><rect x="1017.0" y="314.9" width="3" height="7.800000000000011" fill="#b8b8c0"/><rect x="1101.3" y="314.9" width="3" height="7.800000000000011" fill="#b8b8c0"/><rect x="1058.65" y="314.9" width="4" height="7.800000000000011" fill="#b8b8c0"/>
<rect x="50" y="338.9" width="353.5" height="152.5" fill="#fde6a6"/>
<rect x="403.5" y="338.9" width="1060.8" height="152.5" fill="#fcf0cc"/>
<rect x="50" y="350.8" width="353.5" height="11.4" fill="#fde29a" opacity="0.7"/>
<rect x="403.5" y="350.8" width="1060.8" height="11.4" fill="#fbeabc" opacity="0.7"/>
<rect x="50" y="373.4" width="353.5" height="10.5" fill="#fde29a" opacity="0.7"/>
<rect x="403.5" y="373.4" width="1060.8" height="10.5" fill="#fbeabc" opacity="0.7"/>
<rect x="50" y="395.3" width="353.5" height="12.5" fill="#fde29a" opacity="0.7"/>
<rect x="403.5" y="395.3" width="1060.8" height="12.5" fill="#fbeabc" opacity="0.7"/>
<rect x="50" y="419.6" width="353.5" height="11.8" fill="#fde29a" opacity="0.7"/>
<rect x="403.5" y="419.6" width="1060.8" height="11.8" fill="#fbeabc" opacity="0.7"/>
<rect x="50" y="441.6" width="353.5" height="10.5" fill="#fde29a" opacity="0.7"/>
<rect x="403.5" y="441.6" width="1060.8" height="10.5" fill="#fbeabc" opacity="0.7"/>
<rect x="50" y="462.6" width="353.5" height="9.7" fill="#fde29a" opacity="0.7"/>
<rect x="403.5" y="462.6" width="1060.8" height="9.7" fill="#fbeabc" opacity="0.7"/>
<rect x="403.5" y="338.9" width="6" height="152.5" fill="#efdca8" opacity="0.8"/>
<rect x="415.5" y="338.9" width="6" height="152.5" fill="#efdca8" opacity="0.8"/>
<path d="M404.0 338.9 V491.4 M421.0 338.9 V491.4" stroke="#3a4a6a" stroke-width="1" fill="none"/>
<path d="M409.5 338.9 V491.4 M415.5 338.9 V491.4" stroke="#b8a878" stroke-width="0.7" fill="none"/>
<rect x="757.5" y="338.9" width="6" height="152.5" fill="#efdca8" opacity="0.8"/>
<rect x="769" y="338.9" width="6" height="152.5" fill="#efdca8" opacity="0.8"/>
<path d="M758.0 338.9 V491.4 M774.5 338.9 V491.4" stroke="#3a4a6a" stroke-width="1" fill="none"/>
<path d="M763.5 338.9 V491.4 M769 338.9 V491.4" stroke="#b8a878" stroke-width="0.7" fill="none"/>
<rect x="1111.5" y="338.9" width="6" height="152.5" fill="#efdca8" opacity="0.8"/>
<rect x="1123.5" y="338.9" width="6" height="152.5" fill="#efdca8" opacity="0.8"/>
<path d="M1112.0 338.9 V491.4 M1129.0 338.9 V491.4" stroke="#3a4a6a" stroke-width="1" fill="none"/>
<path d="M1117.5 338.9 V491.4 M1123.5 338.9 V491.4" stroke="#b8a878" stroke-width="0.7" fill="none"/>
<rect x="50" y="338.9" width="16.5" height="152.5" fill="#eed59a" opacity="0.7"/>
<rect x="55.7" y="338.9" width="5.6" height="152.5" fill="#fbe6b0" stroke="#c9b070" stroke-width="0.6"/>
<line x1="50" y1="350.8" x2="1464" y2="350.8" stroke="#ffffff" stroke-width="1.5" stroke-dasharray="1.6 3.4" stroke-dashoffset="-3.2" opacity="0.8"/>
<line x1="50" y1="350.8" x2="403.5" y2="350.8" stroke="#5a5e66" stroke-width="1.2" stroke-dasharray="2.7 2.3"/>
<line x1="405" y1="350.8" x2="1464" y2="350.8" stroke="#6e7482" stroke-width="1.2" stroke-dasharray="2.7 2.3"/>
<line x1="50" y1="362.2" x2="1464" y2="362.2" stroke="#ffffff" stroke-width="1.5" stroke-dasharray="1.6 3.4" stroke-dashoffset="-3.2" opacity="0.8"/>
<line x1="50" y1="362.2" x2="403.5" y2="362.2" stroke="#4e5a78" stroke-width="1.2" stroke-dasharray="2.7 2.3"/>
<line x1="405" y1="362.2" x2="1464" y2="362.2" stroke="#66769a" stroke-width="1.2" stroke-dasharray="2.7 2.3"/>
<line x1="50" y1="373.4" x2="1464" y2="373.4" stroke="#ffffff" stroke-width="1.5" stroke-dasharray="1.6 3.4" stroke-dashoffset="-3.2" opacity="0.8"/>
<line x1="50" y1="373.4" x2="403.5" y2="373.4" stroke="#8f8a70" stroke-width="1.2" stroke-dasharray="2.7 2.3"/>
<line x1="405" y1="373.4" x2="1464" y2="373.4" stroke="#9c9888" stroke-width="1.2" stroke-dasharray="2.7 2.3"/>
<line x1="50" y1="383.9" x2="1464" y2="383.9" stroke="#ffffff" stroke-width="1.5" stroke-dasharray="1.6 3.4" stroke-dashoffset="-3.2" opacity="0.8"/>
<line x1="50" y1="383.9" x2="403.5" y2="383.9" stroke="#5a5e66" stroke-width="1.2" stroke-dasharray="2.7 2.3"/>
<line x1="405" y1="383.9" x2="1464" y2="383.9" stroke="#6e7482" stroke-width="1.2" stroke-dasharray="2.7 2.3"/>
<line x1="50" y1="395.3" x2="1464" y2="395.3" stroke="#ffffff" stroke-width="1.5" stroke-dasharray="1.6 3.4" stroke-dashoffset="-3.2" opacity="0.8"/>
<line x1="50" y1="395.3" x2="403.5" y2="395.3" stroke="#4e5a78" stroke-width="1.2" stroke-dasharray="2.7 2.3"/>
<line x1="405" y1="395.3" x2="1464" y2="395.3" stroke="#66769a" stroke-width="1.2" stroke-dasharray="2.7 2.3"/>
<line x1="50" y1="407.8" x2="1464" y2="407.8" stroke="#ffffff" stroke-width="1.5" stroke-dasharray="1.6 3.4" stroke-dashoffset="-3.2" opacity="0.8"/>
<line x1="50" y1="407.8" x2="403.5" y2="407.8" stroke="#8f8a70" stroke-width="1.2" stroke-dasharray="2.7 2.3"/>
<line x1="405" y1="407.8" x2="1464" y2="407.8" stroke="#9c9888" stroke-width="1.2" stroke-dasharray="2.7 2.3"/>
<line x1="50" y1="419.6" x2="1464" y2="419.6" stroke="#ffffff" stroke-width="1.5" stroke-dasharray="1.6 3.4" stroke-dashoffset="-3.2" opacity="0.8"/>
<line x1="50" y1="419.6" x2="403.5" y2="419.6" stroke="#5a5e66" stroke-width="1.2" stroke-dasharray="2.7 2.3"/>
<line x1="405" y1="419.6" x2="1464" y2="419.6" stroke="#6e7482" stroke-width="1.2" stroke-dasharray="2.7 2.3"/>
<line x1="50" y1="431.4" x2="1464" y2="431.4" stroke="#ffffff" stroke-width="1.5" stroke-dasharray="1.6 3.4" stroke-dashoffset="-3.2" opacity="0.8"/>
<line x1="50" y1="431.4" x2="403.5" y2="431.4" stroke="#4e5a78" stroke-width="1.2" stroke-dasharray="2.7 2.3"/>
<line x1="405" y1="431.4" x2="1464" y2="431.4" stroke="#66769a" stroke-width="1.2" stroke-dasharray="2.7 2.3"/>
<line x1="50" y1="441.6" x2="1464" y2="441.6" stroke="#ffffff" stroke-width="1.5" stroke-dasharray="1.6 3.4" stroke-dashoffset="-3.2" opacity="0.8"/>
<line x1="50" y1="441.6" x2="403.5" y2="441.6" stroke="#8f8a70" stroke-width="1.2" stroke-dasharray="2.7 2.3"/>
<line x1="405" y1="441.6" x2="1464" y2="441.6" stroke="#9c9888" stroke-width="1.2" stroke-dasharray="2.7 2.3"/>
<line x1="50" y1="452.1" x2="1464" y2="452.1" stroke="#ffffff" stroke-width="1.5" stroke-dasharray="1.6 3.4" stroke-dashoffset="-3.2" opacity="0.8"/>
<line x1="50" y1="452.1" x2="403.5" y2="452.1" stroke="#5a5e66" stroke-width="1.2" stroke-dasharray="2.7 2.3"/>
<line x1="405" y1="452.1" x2="1464" y2="452.1" stroke="#6e7482" stroke-width="1.2" stroke-dasharray="2.7 2.3"/>
<line x1="50" y1="462.6" x2="1464" y2="462.6" stroke="#ffffff" stroke-width="1.5" stroke-dasharray="1.6 3.4" stroke-dashoffset="-3.2" opacity="0.8"/>
<line x1="50" y1="462.6" x2="403.5" y2="462.6" stroke="#4e5a78" stroke-width="1.2" stroke-dasharray="2.7 2.3"/>
<line x1="405" y1="462.6" x2="1464" y2="462.6" stroke="#66769a" stroke-width="1.2" stroke-dasharray="2.7 2.3"/>
<line x1="50" y1="472.3" x2="1464" y2="472.3" stroke="#ffffff" stroke-width="1.5" stroke-dasharray="1.6 3.4" stroke-dashoffset="-3.2" opacity="0.8"/>
<line x1="50" y1="472.3" x2="403.5" y2="472.3" stroke="#8f8a70" stroke-width="1.2" stroke-dasharray="2.7 2.3"/>
<line x1="405" y1="472.3" x2="1464" y2="472.3" stroke="#9c9888" stroke-width="1.2" stroke-dasharray="2.7 2.3"/>
<line x1="50" y1="482.3" x2="1464" y2="482.3" stroke="#ffffff" stroke-width="1.5" stroke-dasharray="1.6 3.4" stroke-dashoffset="-3.2" opacity="0.8"/>
<line x1="50" y1="482.3" x2="403.5" y2="482.3" stroke="#5a5e66" stroke-width="1.2" stroke-dasharray="2.7 2.3"/>
<line x1="405" y1="482.3" x2="1464" y2="482.3" stroke="#6e7482" stroke-width="1.2" stroke-dasharray="2.7 2.3"/>
<rect x="1466" y="338.9" width="18" height="161" fill="#cdcfd2" stroke="#1d3a63" stroke-width="1"/>
<rect x="1472.5" y="338.9" width="5.5" height="160" fill="#ffffff" stroke="#7d8796" stroke-width="0.8"/>
<rect x="1200.7" y="339" width="232.3" height="126.3" fill="#f39a34" opacity="0.92"/>
<line x1="1200.7" y1="350.8" x2="1433" y2="350.8" stroke="#b04040" stroke-width="1.4" stroke-dasharray="3 2"/>
<line x1="1200.7" y1="362.2" x2="1433" y2="362.2" stroke="#b04040" stroke-width="1.4" stroke-dasharray="3 2"/>
<line x1="1200.7" y1="373.4" x2="1433" y2="373.4" stroke="#b04040" stroke-width="1.4" stroke-dasharray="3 2"/>
<line x1="1200.7" y1="383.9" x2="1433" y2="383.9" stroke="#b04040" stroke-width="1.4" stroke-dasharray="3 2"/>
<line x1="1200.7" y1="395.3" x2="1433" y2="395.3" stroke="#b04040" stroke-width="1.4" stroke-dasharray="3 2"/>
<line x1="1200.7" y1="407.8" x2="1433" y2="407.8" stroke="#b04040" stroke-width="1.4" stroke-dasharray="3 2"/>
<line x1="1200.7" y1="419.6" x2="1433" y2="419.6" stroke="#b04040" stroke-width="1.4" stroke-dasharray="3 2"/>
<line x1="1200.7" y1="431.4" x2="1433" y2="431.4" stroke="#b04040" stroke-width="1.4" stroke-dasharray="3 2"/>
<line x1="1200.7" y1="441.6" x2="1433" y2="441.6" stroke="#b04040" stroke-width="1.4" stroke-dasharray="3 2"/>
<line x1="1200.7" y1="452.1" x2="1433" y2="452.1" stroke="#b04040" stroke-width="1.4" stroke-dasharray="3 2"/>
<line x1="1200.7" y1="462.6" x2="1433" y2="462.6" stroke="#b04040" stroke-width="1.4" stroke-dasharray="3 2"/>
<line x1="1226.6" y1="339" x2="1226.6" y2="465" stroke="#444" stroke-width="0.8" stroke-dasharray="3 2"/>
<rect x="1129.5" y="465.3" width="334.8" height="26" fill="#efda9c"/>
<line x1="1129.5" y1="472.5" x2="1464" y2="472.5" stroke="#7a7460" stroke-width="1.3" stroke-dasharray="2.7 2.3"/>
<line x1="1129.5" y1="483.3" x2="1464" y2="483.3" stroke="#7a7460" stroke-width="1.3" stroke-dasharray="2.7 2.3"/>
<rect x="48" y="491.4" width="1416" height="7.6" fill="#cdcfd2"/>
<line x1="48" y1="492.6" x2="1464" y2="492.6" stroke="#6a6e78" stroke-width="1.2" stroke-dasharray="3 2"/>
<line x1="46" y1="500.4" x2="1466" y2="500.4" stroke="#173a66" stroke-width="2.8"/>
<polygon points="393.2,465 431.1,465 437.7,492 386.6,492" fill="#f1e6b6" stroke="#8a8a90" stroke-width="0.8"/>
<polygon points="776,465 787,465 789,482 774,482" fill="#f1e6b6" stroke="#8a8a90" stroke-width="0.6"/>
<polygon points="1103.2,465.5 1139.5,465.5 1139.5,492 1096,492" fill="#f1e6b6" stroke="#8a8a90" stroke-width="0.8"/>
<polygon points="1463.4,465.2 1494.3,465.2 1503.4,500.2 1464.3,500.2" fill="#e2eee2" stroke="#1d3a63" stroke-width="1.2"/>
<polygon points="48.2,466 76.3,466 83.3,491.8 48.2,491.8" fill="#f6ebbc" stroke="#8a8a90" stroke-width="0.8"/>
<rect x="440.1" y="345.1" width="64.19999999999999" height="6.899999999999977" fill="#f8f0a0" stroke="#9a9a6a" stroke-width="0.6"/><rect x="441.4" y="352" width="7.100000000000023" height="133.5" fill="#f8f0a0" stroke="#9a9a6a" stroke-width="0.6"/><rect x="497.2" y="352" width="7.100000000000023" height="133.5" fill="#f8f0a0" stroke="#9a9a6a" stroke-width="0.6"/><rect x="441.7" y="485.5" width="63.80000000000001" height="7.5" fill="#f8f0a0" stroke="#9a9a6a" stroke-width="0.6"/><rect x="448.5" y="352" width="48.69999999999999" height="133.5" fill="#e5444a" stroke="#a03a40" stroke-width="0.5"/><rect x="454.9" y="357" width="16.5" height="25.399999999999977" fill="#ffffff" stroke="#9a6a70" stroke-width="0.8"/><rect x="454.9" y="387.5" width="16.5" height="25.69999999999999" fill="#ffffff" stroke="#9a6a70" stroke-width="0.8"/><rect x="454.9" y="417.6" width="16.5" height="25.799999999999955" fill="#ffffff" stroke="#9a6a70" stroke-width="0.8"/><rect x="454.9" y="448.5" width="16.5" height="25.69999999999999" fill="#ffffff" stroke="#9a6a70" stroke-width="0.8"/><rect x="474.3" y="357" width="16.899999999999977" height="25.399999999999977" fill="#ffffff" stroke="#9a6a70" stroke-width="0.8"/><rect x="474.3" y="387.5" width="16.899999999999977" height="25.69999999999999" fill="#ffffff" stroke="#9a6a70" stroke-width="0.8"/><rect x="474.3" y="417.6" width="16.899999999999977" height="25.799999999999955" fill="#ffffff" stroke="#9a6a70" stroke-width="0.8"/><rect x="474.3" y="448.5" width="16.899999999999977" height="25.69999999999999" fill="#ffffff" stroke="#9a6a70" stroke-width="0.8"/>
<rect x="612.5" y="343.7" width="64.89999999999998" height="7.300000000000011" fill="#f8f0a0" stroke="#9a9a6a" stroke-width="0.6"/><rect x="614" y="351" width="7.7999999999999545" height="135.60000000000002" fill="#f8f0a0" stroke="#9a9a6a" stroke-width="0.6"/><rect x="671" y="351" width="7.600000000000023" height="135.60000000000002" fill="#f8f0a0" stroke="#9a9a6a" stroke-width="0.6"/><rect x="621.8" y="351" width="49.30000000000007" height="141.89999999999998" fill="#e5444a" stroke="#a03a40" stroke-width="0.5"/><rect x="629.6" y="358.7" width="15.600000000000023" height="25.0" fill="#ffffff" stroke="#9a6a70" stroke-width="0.8"/><rect x="629.6" y="389.3" width="15.600000000000023" height="25.599999999999966" fill="#ffffff" stroke="#9a6a70" stroke-width="0.8"/><rect x="629.6" y="419.6" width="15.600000000000023" height="24.899999999999977" fill="#ffffff" stroke="#9a6a70" stroke-width="0.8"/><rect x="629.6" y="449.8" width="15.600000000000023" height="25.0" fill="#ffffff" stroke="#9a6a70" stroke-width="0.8"/><rect x="649.3" y="358.7" width="16.200000000000045" height="25.0" fill="#ffffff" stroke="#9a6a70" stroke-width="0.8"/><rect x="649.3" y="389.3" width="16.200000000000045" height="25.599999999999966" fill="#ffffff" stroke="#9a6a70" stroke-width="0.8"/><rect x="649.3" y="419.6" width="16.200000000000045" height="24.899999999999977" fill="#ffffff" stroke="#9a6a70" stroke-width="0.8"/><rect x="649.3" y="449.8" width="16.200000000000045" height="25.0" fill="#ffffff" stroke="#9a6a70" stroke-width="0.8"/>
<rect x="980.5" y="342.6" width="112.59999999999991" height="6.599999999999966" fill="#f8f0a0" stroke="#9a9a6a" stroke-width="0.6"/><rect x="980.5" y="349.2" width="7.600000000000023" height="136.40000000000003" fill="#f8f0a0" stroke="#9a9a6a" stroke-width="0.6"/><rect x="1085.8" y="349.2" width="7.2999999999999545" height="136.40000000000003" fill="#f8f0a0" stroke="#9a9a6a" stroke-width="0.6"/><rect x="988.1" y="349.2" width="97.69999999999993" height="143.10000000000002" fill="#e5444a" stroke="#a03a40" stroke-width="0.5"/><rect x="995.8" y="357.2" width="16.5" height="25.80000000000001" fill="#ffffff" stroke="#9a6a70" stroke-width="0.8"/><rect x="995.8" y="388" width="16.5" height="25.80000000000001" fill="#ffffff" stroke="#9a6a70" stroke-width="0.8"/><rect x="995.8" y="418.7" width="16.5" height="25.5" fill="#ffffff" stroke="#9a6a70" stroke-width="0.8"/><rect x="995.8" y="448.5" width="16.5" height="26.19999999999999" fill="#ffffff" stroke="#9a6a70" stroke-width="0.8"/><rect x="1015.6" y="357.2" width="15.899999999999977" height="25.80000000000001" fill="#ffffff" stroke="#9a6a70" stroke-width="0.8"/><rect x="1015.6" y="388" width="15.899999999999977" height="25.80000000000001" fill="#ffffff" stroke="#9a6a70" stroke-width="0.8"/><rect x="1015.6" y="418.7" width="15.899999999999977" height="25.5" fill="#ffffff" stroke="#9a6a70" stroke-width="0.8"/><rect x="1015.6" y="448.5" width="15.899999999999977" height="26.19999999999999" fill="#ffffff" stroke="#9a6a70" stroke-width="0.8"/><rect x="1044.4" y="357.2" width="15.899999999999864" height="25.80000000000001" fill="#ffffff" stroke="#9a6a70" stroke-width="0.8"/><rect x="1044.4" y="388" width="15.899999999999864" height="25.80000000000001" fill="#ffffff" stroke="#9a6a70" stroke-width="0.8"/><rect x="1044.4" y="418.7" width="15.899999999999864" height="25.5" fill="#ffffff" stroke="#9a6a70" stroke-width="0.8"/><rect x="1044.4" y="448.5" width="15.899999999999864" height="26.19999999999999" fill="#ffffff" stroke="#9a6a70" stroke-width="0.8"/><rect x="1064.3" y="357.2" width="15.900000000000091" height="25.80000000000001" fill="#ffffff" stroke="#9a6a70" stroke-width="0.8"/><rect x="1064.3" y="388" width="15.900000000000091" height="25.80000000000001" fill="#ffffff" stroke="#9a6a70" stroke-width="0.8"/><rect x="1064.3" y="418.7" width="15.900000000000091" height="25.5" fill="#ffffff" stroke="#9a6a70" stroke-width="0.8"/><rect x="1064.3" y="448.5" width="15.900000000000091" height="26.19999999999999" fill="#ffffff" stroke="#9a6a70" stroke-width="0.8"/>
<line x1="1037.2" y1="349.2" x2="1037.2" y2="492.3" stroke="#a03038" stroke-width="0.8"/>
<rect x="134.1" y="349.4" width="78.3" height="143.9" fill="#e5444a"/>
<rect x="1140.6" y="346" width="49.2" height="120.2" fill="#e5444a" stroke="#8a5a50" stroke-width="0.5"/>
<rect x="1406.7" y="344.9" width="49.9" height="118.9" fill="#e5444a" stroke="#8a5a50" stroke-width="0.5"/>
<polygon points="54.2,431 174.3,431 123.5,488.3 104.4,488.3" fill="url(#gHopper)" stroke="#7a5050" stroke-width="0.7"/>
<path d="M53.8 431 V499 M174.7 431 V499 M89.4 469.2 V499 M139.6 469.2 V499 M89.4 469.2 H139.6 M53.8 431 H174.7" fill="none" stroke="#8a8a90" stroke-width="0.7"/>
<path d="M690.5 419.3 Q690.5 413.3 696.5 413.3 H770.3 Q776.3 413.3 776.3 419.3 V475 Q776.3 482 769.3 482 H697.5 Q690.5 482 690.5 475 Z" fill="url(#gBagL)" stroke="#7a6a50" stroke-width="0.5"/><path d="M690.5 419.3 Q690.5 413.3 696.5 413.3 H770.3 Q776.3 413.3 776.3 419.3 V475 Q776.3 482 769.3 482 H697.5 Q690.5 482 690.5 475 Z" fill="url(#gBagH)"/><path d="M696.5 482.2 C690.0 482 687.1 473.75600000000003 687.2 457.955 C687.4 437.345 688.9 423.605 688.3 410.255 C685.7 400.105 687.1 393 691.3 393 C696.3 393 696.5 404.165 691.7 415.8" fill="none" stroke="#1d3a63" stroke-width="2.5" stroke-linecap="round"/><path d="M770.3 482.2 C776.8 482 779.6999999999999 473.75600000000003 779.5999999999999 457.955 C779.4 437.345 777.9 423.605 778.5 410.255 C781.0999999999999 400.105 779.6999999999999 393 775.5 393 C770.5 393 770.3 404.165 775.0999999999999 415.8" fill="none" stroke="#1d3a63" stroke-width="2.5" stroke-linecap="round"/><rect x="689.0" y="482.9" width="88.79999999999995" height="8.400000000000034" fill="#4a5a7e" stroke="#1d3a63" stroke-width="1"/><rect x="693.5" y="485.4" width="36.89999999999998" height="3.400000000000034" fill="#d2def0" stroke="#34466a" stroke-width="0.6"/><rect x="736.4" y="485.4" width="36.89999999999998" height="3.400000000000034" fill="#d2def0" stroke="#34466a" stroke-width="0.6"/><rect x="689.5" y="483.4" width="3" height="7.400000000000034" fill="#b8b8c0"/><rect x="774.3" y="483.4" width="3" height="7.400000000000034" fill="#b8b8c0"/><rect x="731.4" y="483.4" width="4" height="7.400000000000034" fill="#b8b8c0"/>
<path d="M791.2 399.2 Q791.2 393.2 797.2 393.2 H870 Q876 393.2 876 399.2 V476.7 Q876 483.7 869 483.7 H798.2 Q791.2 483.7 791.2 476.7 Z" fill="url(#gBagL)" stroke="#7a6a50" stroke-width="0.5"/><path d="M791.2 399.2 Q791.2 393.2 797.2 393.2 H870 Q876 393.2 876 399.2 V476.7 Q876 483.7 869 483.7 H798.2 Q791.2 483.7 791.2 476.7 Z" fill="url(#gBagH)"/><path d="M797.2 483.9 C790.7 483.7 787.8000000000001 472.84 787.9000000000001 452.025 C788.1 424.875 789.6 406.775 789.0 389.375 C786.4000000000001 376.625 787.8000000000001 367.7 792.0 367.7 C797.0 367.7 797.2 381.72499999999997 792.4000000000001 395.7" fill="none" stroke="#1d3a63" stroke-width="2.5" stroke-linecap="round"/><path d="M870 483.9 C876.5 483.7 879.4 472.84 879.3 452.025 C879.1 424.875 877.6 406.775 878.2 389.375 C880.8 376.625 879.4 367.7 875.2 367.7 C870.2 367.7 870 381.72499999999997 874.8 395.7" fill="none" stroke="#1d3a63" stroke-width="2.5" stroke-linecap="round"/><rect x="789.7" y="483.7" width="87.79999999999995" height="7.600000000000023" fill="#4a5a7e" stroke="#1d3a63" stroke-width="1"/><rect x="794.2" y="486.2" width="36.39999999999998" height="2.6000000000000227" fill="#d2def0" stroke="#34466a" stroke-width="0.6"/><rect x="836.6" y="486.2" width="36.39999999999998" height="2.6000000000000227" fill="#d2def0" stroke="#34466a" stroke-width="0.6"/><rect x="790.2" y="484.2" width="3" height="6.600000000000023" fill="#b8b8c0"/><rect x="874.0" y="484.2" width="3" height="6.600000000000023" fill="#b8b8c0"/><rect x="831.6" y="484.2" width="4" height="6.600000000000023" fill="#b8b8c0"/>
<path d="M888.8 421.8 Q888.8 415.8 894.8 415.8 H967.6 Q973.6 415.8 973.6 421.8 V478 Q973.6 485 966.6 485 H895.8 Q888.8 485 888.8 478 Z" fill="url(#gBagL)" stroke="#7a6a50" stroke-width="0.5"/><path d="M888.8 421.8 Q888.8 415.8 894.8 415.8 H967.6 Q973.6 415.8 973.6 421.8 V478 Q973.6 485 966.6 485 H895.8 Q888.8 485 888.8 478 Z" fill="url(#gBagH)"/><path d="M894.8 485.2 C888.3 485 885.4 476.696 885.5 460.78000000000003 C885.6999999999999 440.02 887.1999999999999 426.18 886.5999999999999 412.83 C884.0 402.93 885.4 396 889.5999999999999 396 C894.5999999999999 396 894.8 406.89 890.0 418.3" fill="none" stroke="#1d3a63" stroke-width="2.5" stroke-linecap="round"/><path d="M967.6 485.2 C974.1 485 977.0 476.696 976.9 460.78000000000003 C976.7 440.02 975.2 426.18 975.8000000000001 412.83 C978.4 402.93 977.0 396 972.8000000000001 396 C967.8000000000001 396 967.6 406.89 972.4 418.3" fill="none" stroke="#1d3a63" stroke-width="2.5" stroke-linecap="round"/><rect x="887.3" y="485" width="87.80000000000007" height="8.600000000000023" fill="#4a5a7e" stroke="#1d3a63" stroke-width="1"/><rect x="891.8" y="487.5" width="36.40000000000009" height="3.6000000000000227" fill="#d2def0" stroke="#34466a" stroke-width="0.6"/><rect x="934.2" y="487.5" width="36.40000000000009" height="3.6000000000000227" fill="#d2def0" stroke="#34466a" stroke-width="0.6"/><rect x="887.8" y="485.5" width="3" height="7.600000000000023" fill="#b8b8c0"/><rect x="971.6" y="485.5" width="3" height="7.600000000000023" fill="#b8b8c0"/><rect x="929.2" y="485.5" width="4" height="7.600000000000023" fill="#b8b8c0"/>
<circle cx="588.7" cy="235.2" r="10.4" fill="url(#gOrb)" stroke="#4a3a50" stroke-width="1"/>
<circle cx="1322.7" cy="375.4" r="10.4" fill="url(#gOrb)" stroke="#4a3a50" stroke-width="1"/>
<text x="83.1" y="108.4" font-family="Liberation Sans" font-weight="bold" font-size="17.5" fill="#fffaf0" stroke="#fffaf0" stroke-width="0.45" textLength="80.30000000000001" lengthAdjust="spacingAndGlyphs">Blé après</text>
<text x="96.3" y="132" font-family="Liberation Sans" font-weight="bold" font-size="17.5" fill="#fffaf0" stroke="#fffaf0" stroke-width="0.45" textLength="53.2" lengthAdjust="spacingAndGlyphs">triage</text>
<text x="206.2" y="108.3" font-family="Liberation Sans" font-weight="bold" font-size="17.5" fill="#fffaf0" stroke="#fffaf0" stroke-width="0.45" textLength="81.40000000000003" lengthAdjust="spacingAndGlyphs">Blé après</text>
<text x="220.9" y="131.1" font-family="Liberation Sans" font-weight="bold" font-size="17.5" fill="#fffaf0" stroke="#fffaf0" stroke-width="0.45" textLength="52.70000000000002" lengthAdjust="spacingAndGlyphs">triage</text>
<text x="191.1" y="224.3" font-family="Liberation Sans" font-weight="bold" font-size="17.7" fill="#000" stroke="#000" stroke-width="0.45" textLength="82.9" lengthAdjust="spacingAndGlyphs">Meunerie</text>
<text x="527.7" y="166.2" font-family="Liberation Sans" font-weight="bold" font-size="17.7" fill="#000" stroke="#000" stroke-width="0.45" textLength="129.5999999999999" lengthAdjust="spacingAndGlyphs">Stockage 2014</text>
<text x="219.7" y="369.7" font-family="Liberation Sans" font-weight="bold" font-size="18.8" fill="#000" stroke="#000" stroke-width="0.45" textLength="60.5" lengthAdjust="spacingAndGlyphs">Fournil</text>
<text x="506.2" y="368.8" font-family="Liberation Sans" font-weight="bold" font-size="19.3" fill="#000" stroke="#000" stroke-width="0.45" textLength="105.09999999999997" lengthAdjust="spacingAndGlyphs">Laboratoire</text>
<text x="805.3" y="303.5" font-family="Liberation Sans" font-weight="bold" font-size="17.5" fill="#fffaf0" stroke="#fffaf0" stroke-width="0.45" textLength="62.0" lengthAdjust="spacingAndGlyphs">Blé trié</text>
<text x="909.3" y="303.9" font-family="Liberation Sans" font-weight="bold" font-size="17.5" fill="#fffaf0" stroke="#fffaf0" stroke-width="0.45" textLength="71.20000000000005" lengthAdjust="spacingAndGlyphs">Sarrasin</text>
<text x="1026.8" y="303.9" font-family="Liberation Sans" font-weight="bold" font-size="17.5" fill="#fffaf0" stroke="#fffaf0" stroke-width="0.45" textLength="63.200000000000045" lengthAdjust="spacingAndGlyphs">Blé trié</text>
<text x="695.2" y="471" font-family="Liberation Sans" font-weight="bold" font-size="17.5" fill="#fffaf0" stroke="#fffaf0" stroke-width="0.45" textLength="72.69999999999993" lengthAdjust="spacingAndGlyphs">Sarrasin</text>
<text x="792" y="471" font-family="Liberation Sans" font-weight="bold" font-size="17.5" fill="#fffaf0" stroke="#fffaf0" stroke-width="0.45" textLength="79.20000000000005" lengthAdjust="spacingAndGlyphs">Epeautre</text>
<text x="903.5" y="471" font-family="Liberation Sans" font-weight="bold" font-size="17.5" fill="#fffaf0" stroke="#fffaf0" stroke-width="0.45" textLength="54.5" lengthAdjust="spacingAndGlyphs">Seigle</text>
<text x="1243.2" y="130.3" font-family="Liberation Sans" font-weight="bold" font-size="17.7" fill="#000" stroke="#000" stroke-width="0.45" textLength="128.70000000000005" lengthAdjust="spacingAndGlyphs">Stockage 2013</text>
<text x="1249.7" y="297.2" font-family="Liberation Sans" font-weight="bold" font-size="17.5" fill="#fffaf0" stroke="#fffaf0" stroke-width="0.45" textLength="136.79999999999995" lengthAdjust="spacingAndGlyphs">Blé en mélange</text>
<text x="1247.1" y="320.2" font-family="Liberation Sans" font-weight="bold" font-size="17.5" fill="#fffaf0" stroke="#fffaf0" stroke-width="0.45" textLength="140.9000000000001" lengthAdjust="spacingAndGlyphs">2/3 blés anciens</text>
</svg></body></html>
